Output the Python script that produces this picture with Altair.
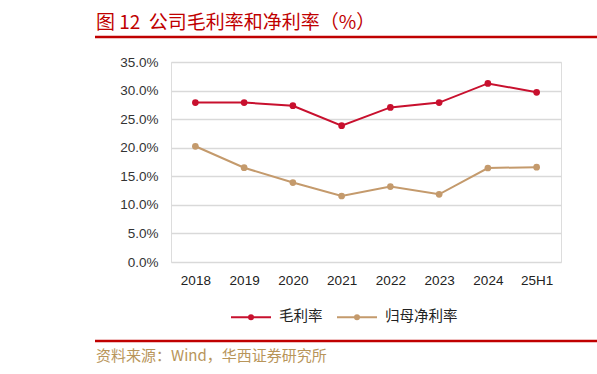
import altair as alt
import pandas as pd

categories = ["2018", "2019", "2020", "2021", "2022", "2023", "2024", "25H1"]
gross_margin = [27.9, 27.9, 27.35, 23.85, 27.05, 27.9, 31.25, 29.7]
net_margin = [20.25, 16.5, 13.9, 11.55, 13.2, 11.85, 16.45, 16.6]
series_names = ["毛利率", "归母净利率"]
series_colors = ["#C8102E", "#C49A6C"]
title_text = "图\u00a012\u00a0\u00a0公司毛利率和净利率（%）"
source_text = "资料来源：Wind，华西证券研究所"

rows = []
for c, g, n in zip(categories, gross_margin, net_margin):
    rows.append({"cat": c, "series": series_names[0], "value": g / 100})
    rows.append({"cat": c, "series": series_names[1], "value": n / 100})
df = pd.DataFrame(rows)

W, H = 390, 200
LEFT, TOP = 171, 62
CJK = "Noto Sans CJK SC"

color = alt.Color(
    "series:N",
    scale=alt.Scale(domain=series_names, range=series_colors),
    sort=series_names,
    legend=alt.Legend(
        orient="none", legendX=59, legendY=234, direction="horizontal",
        title=None,
        symbolType="M-1,0H1M-0.1,0A0.1,0.1 0 1,0 0.1,0A0.1,0.1 0 1,0 -0.1,0",
        symbolSize=1600, symbolStrokeWidth=2, symbolOpacity=1,
        labelFont=CJK, labelFontSize=14.5, labelColor="#222222",
        columnPadding=10, labelOffset=7,
    ),
)

x = alt.X("cat:N", sort=categories, scale=alt.Scale(padding=0.5),
          axis=alt.Axis(title=None, labelAngle=0, ticks=False, domain=False, grid=False,
                        labelFont="Liberation Sans", labelFontSize=13.5, labelColor="#222222",
                        labelPadding=11))
y = alt.Y("value:Q", scale=alt.Scale(domain=[0, 0.35], nice=False),
          axis=alt.Axis(title=None, format=".1%", values=[0, .05, .1, .15, .2, .25, .3, .35],
                        ticks=False, domain=False, grid=True, gridColor="#D9D9D9", gridWidth=1.3,
                        labelFont="Liberation Sans", labelFontSize=13.5, labelColor="#333333",
                        labelPadding=13))

base = alt.Chart(df)
lines = base.mark_line(strokeWidth=2).encode(x=x, y=y, color=color, detail="series:N")
points = base.mark_point(filled=True, size=45, opacity=1).encode(
    x=x, y=y,
    color=alt.Color("series:N", scale=alt.Scale(domain=series_names, range=series_colors), legend=None))

deco = alt.Chart(pd.DataFrame({"t": [title_text]}))
title = deco.mark_text(align="left", baseline="alphabetic", font=CJK, fontSize=19, color="#C00000").encode(
    x=alt.value(-75), y=alt.value(-33), text="t:N")
top_rule = deco.mark_rule(color="#C00000", strokeWidth=2.5).encode(
    x=alt.value(-76), x2=alt.value(430), y=alt.value(-25))
bottom_rule = deco.mark_rule(color="#C00000", strokeWidth=2.5).encode(
    x=alt.value(-76), x2=alt.value(430), y=alt.value(279))
src = alt.Chart(pd.DataFrame({"t": [source_text]})).mark_text(
    align="left", baseline="middle", font=CJK, fontSize=15, color="#B8955A").encode(
    x=alt.value(-75), y=alt.value(294), text="t:N")

chart = alt.layer(lines, points, title, top_rule, bottom_rule, src).properties(
    width=W, height=H,
    autosize=alt.AutoSizeParams(type="none"),
    padding={"left": LEFT, "top": TOP, "right": 597 - LEFT - W, "bottom": 374 - TOP - H},
).configure_view(stroke=None).configure(background="white")

chart.save("out.html", embed_options={"renderer": "svg", "actions": False})
